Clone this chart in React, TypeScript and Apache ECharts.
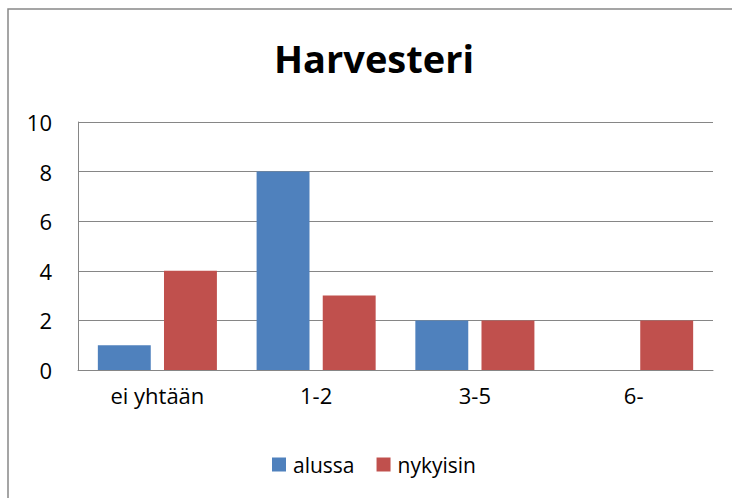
import React, { useEffect, useRef } from "react";
import * as echarts from "echarts";

const categories = ["ei yhtään", "1-2", "3-5", "6-"];
const alussa = [1, 8, 2, 0];
const nykyisin = [4, 3, 2, 2];
const seriesNames = ["alussa", "nykyisin"];
const titleText = "Harvesteri";

export default function App() {
  const ref = useRef<HTMLDivElement>(null);
  useEffect(() => {
    document.body.style.margin = "0";
    if (!ref.current) return;
    const chart = echarts.init(ref.current, null, { renderer: "svg" });
    const font = "'Open Sans', 'Liberation Sans', sans-serif";
    chart.setOption({
      animation: false,
      backgroundColor: "#ffffff",
      textStyle: { fontFamily: font },
      graphic: [
        {
          type: "rect",
          shape: { x: 8, y: 9, width: 760, height: 520 },
          style: { fill: "none", stroke: "#888888", lineWidth: 1.5 },
          silent: true,
        },
        {
          type: "text",
          x: 374,
          y: 58,
          style: {
            text: titleText,
            fontFamily: font,
            fontWeight: "bold",
            fontSize: 38,
            fill: "#000000",
            textAlign: "center",
            textVerticalAlign: "middle",
          },
        },
      ],
      legend: {
        data: seriesNames,
        left: 272,
        top: 454,
        padding: 0,
        itemWidth: 14,
        itemHeight: 14,
        itemGap: 22,
        icon: "rect",
        textStyle: { fontFamily: font, fontSize: 21, color: "#000", padding: [0, 0, 0, 2] },
      },
      grid: { left: 78, right: 19, top: 122, bottom: 128, containLabel: false },
      xAxis: {
        type: "category",
        data: categories,
        axisLine: { show: true, lineStyle: { color: "#868686", width: 1 } },
        axisTick: { show: false },
        axisLabel: { color: "#000", fontSize: 22, fontFamily: font, margin: 14 },
      },
      yAxis: {
        type: "value",
        min: 0,
        max: 10,
        interval: 2,
        axisLine: { show: true, lineStyle: { color: "#868686", width: 1 } },
        axisTick: { show: false },
        splitLine: { show: true, lineStyle: { color: "#868686", width: 1 } },
        axisLabel: { color: "#000", fontSize: 22, fontFamily: font, margin: 26 },
      },
      series: [
        {
          name: seriesNames[0],
          type: "bar",
          data: alussa,
          itemStyle: { color: "#4F81BD" },
          barGap: "25%",
          barCategoryGap: "25%",
        },
        {
          name: seriesNames[1],
          type: "bar",
          data: nykyisin,
          itemStyle: { color: "#C0504D" },
          barGap: "25%",
          barCategoryGap: "25%",
        },
      ],
    });
    return () => chart.dispose();
  }, []);
  return <div ref={ref} style={{ width: 732, height: 498 }} />;
}
